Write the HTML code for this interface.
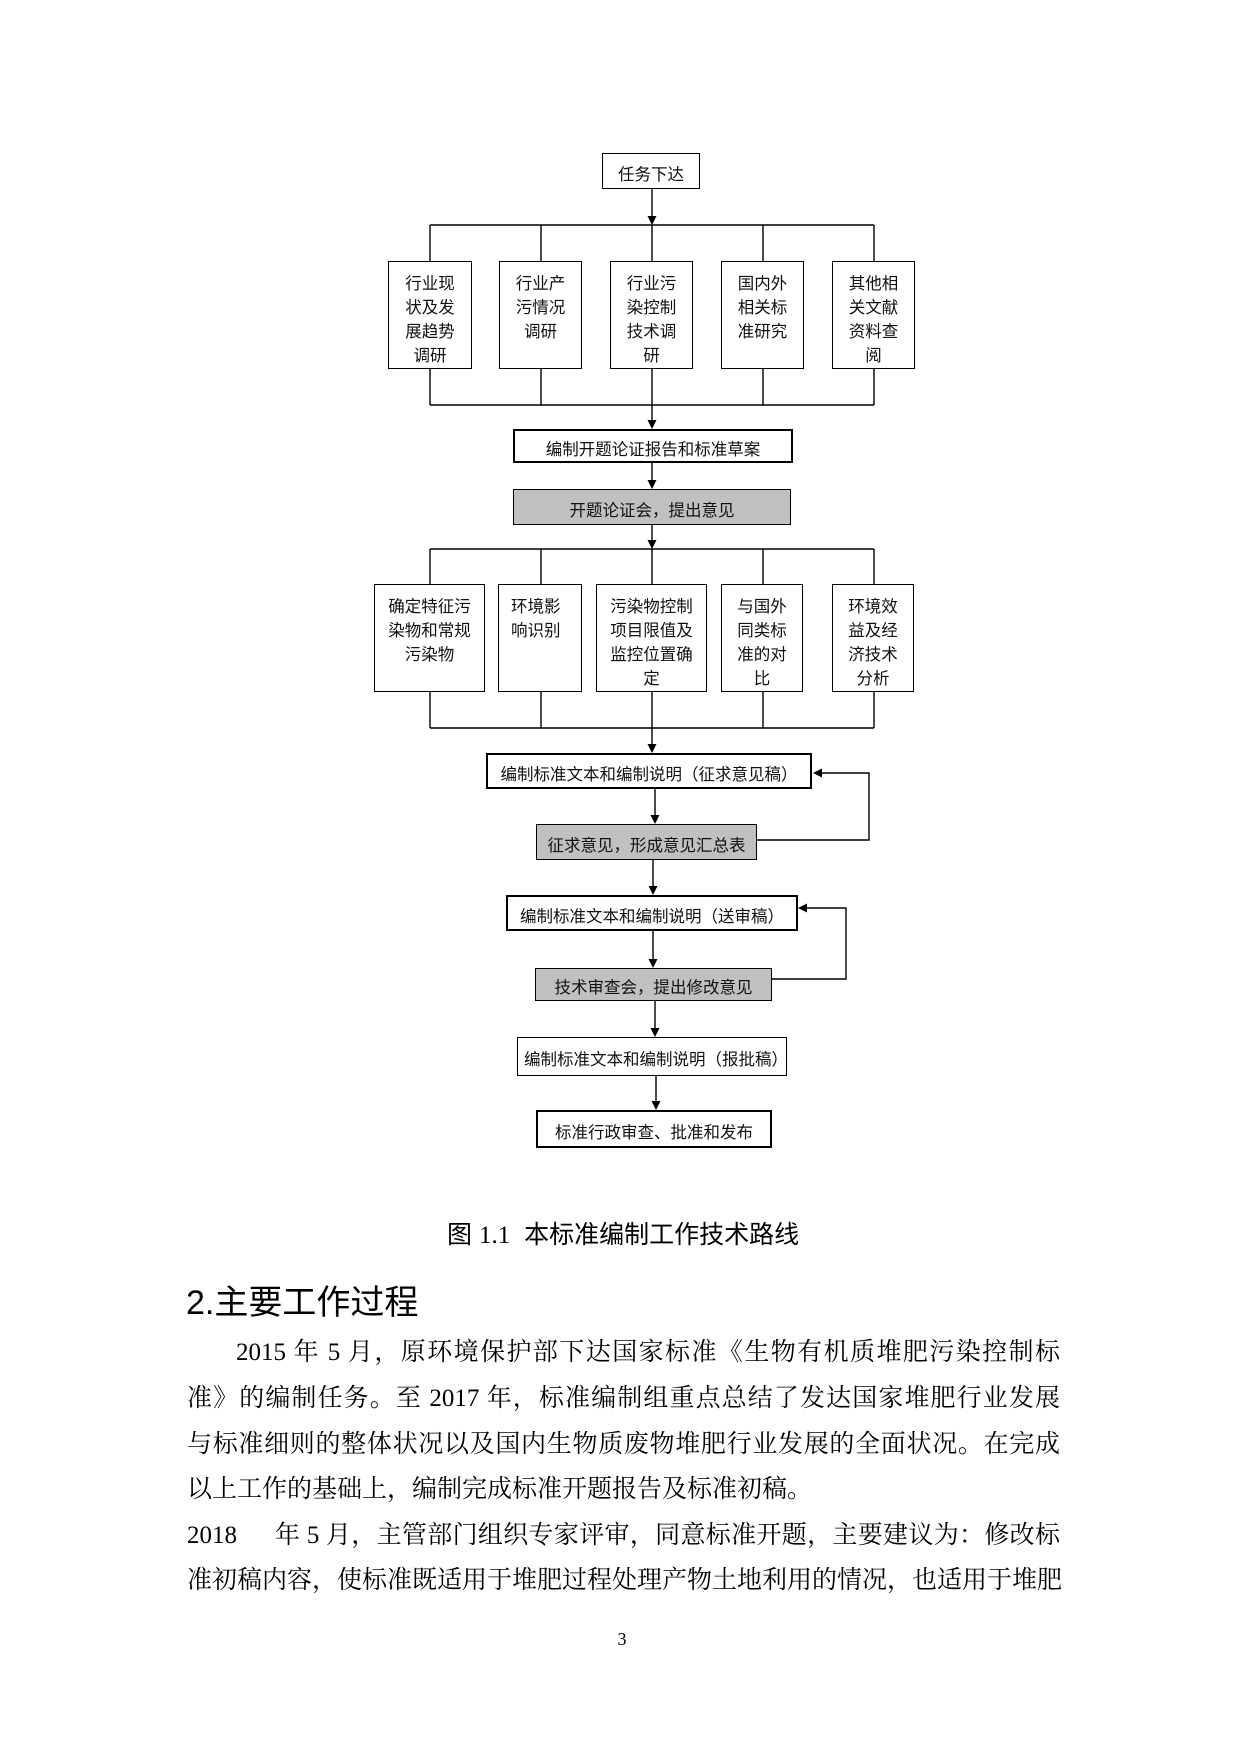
<!DOCTYPE html>
<html>
<head>
<meta charset="utf-8">
<style>
  html, body { margin:0; padding:0; background:#fff; }
  body { width:1240px; height:1754px; position:relative; overflow:hidden; }
  .bx { position:absolute; box-sizing:border-box; border:1.5px solid #000; background:#fff;
        font-family:"Liberation Sans","Noto Sans CJK SC",sans-serif; font-size:16.5px; color:#111;
        text-align:center; white-space:nowrap; }
  .thick { border-width:2px; }
  .gray { background:#c0c0c0; }
  .one { display:flex; align-items:center; justify-content:center; padding-top:3px; }
  .multi { line-height:24px; padding-top:10px; }
  .left { text-align:left; padding-left:12px; }
  svg { position:absolute; left:0; top:0; }
  .txt { position:absolute; white-space:nowrap; color:#000; }
  .body { font-family:"Liberation Serif","Noto Serif CJK SC",serif; font-size:25px; line-height:46px; height:46px; }
  .just { text-align:justify; text-align-last:justify; }
</style>
</head>
<body>

<svg width="1240" height="1754" viewBox="0 0 1240 1754">
  <g stroke="#000" stroke-width="1.4" fill="none">
    <line x1="652" y1="189" x2="652" y2="218"/>
    <line x1="430" y1="225" x2="874" y2="225"/>
    <line x1="430" y1="225" x2="430" y2="261"/>
    <line x1="541" y1="225" x2="541" y2="261"/>
    <line x1="652" y1="225" x2="652" y2="261"/>
    <line x1="763" y1="225" x2="763" y2="261"/>
    <line x1="874" y1="225" x2="874" y2="261"/>
    <line x1="430" y1="369" x2="430" y2="405"/>
    <line x1="541" y1="369" x2="541" y2="405"/>
    <line x1="652" y1="369" x2="652" y2="405"/>
    <line x1="763" y1="369" x2="763" y2="405"/>
    <line x1="874" y1="369" x2="874" y2="405"/>
    <line x1="430" y1="405" x2="874" y2="405"/>
    <line x1="652" y1="405" x2="652" y2="422"/>
    <line x1="652" y1="463" x2="652" y2="482"/>
    <line x1="652" y1="525" x2="652" y2="542"/>
    <line x1="430" y1="549" x2="874" y2="549"/>
    <line x1="430" y1="549" x2="430" y2="584"/>
    <line x1="541" y1="549" x2="541" y2="584"/>
    <line x1="652" y1="549" x2="652" y2="584"/>
    <line x1="763" y1="549" x2="763" y2="584"/>
    <line x1="874" y1="549" x2="874" y2="584"/>
    <line x1="430" y1="692" x2="430" y2="728"/>
    <line x1="541" y1="692" x2="541" y2="728"/>
    <line x1="652" y1="692" x2="652" y2="728"/>
    <line x1="763" y1="692" x2="763" y2="728"/>
    <line x1="874" y1="692" x2="874" y2="728"/>
    <line x1="430" y1="728" x2="874" y2="728"/>
    <line x1="652" y1="728" x2="652" y2="746"/>
    <line x1="655" y1="789" x2="655" y2="817"/>
    <polyline points="757,840 869,840 869,773 820,773"/>
    <line x1="653" y1="860" x2="653" y2="888"/>
    <line x1="653" y1="931" x2="653" y2="961"/>
    <polyline points="772,979 846,979 846,908 805,908"/>
    <line x1="655" y1="1001" x2="655" y2="1030"/>
    <line x1="656" y1="1076" x2="656" y2="1103"/>
  </g>
  <g fill="#000">
    <polygon points="647.5,216 656.5,216 652,225"/>
    <polygon points="647.5,420 656.5,420 652,429"/>
    <polygon points="647.5,480 656.5,480 652,489"/>
    <polygon points="647.5,540 656.5,540 652,549"/>
    <polygon points="647.5,744 656.5,744 652,753"/>
    <polygon points="650.5,815 659.5,815 655,824"/>
    <polygon points="822,768.5 822,777.5 813,773"/>
    <polygon points="648.5,886 657.5,886 653,895"/>
    <polygon points="648.5,959 657.5,959 653,968"/>
    <polygon points="807,903.5 807,912.5 798,908"/>
    <polygon points="650.5,1028 659.5,1028 655,1037"/>
    <polygon points="651.5,1101 660.5,1101 656,1110"/>
  </g>
</svg>

<div class="bx one" style="left:602px;top:153px;width:98px;height:36px;">任务下达</div>

<div class="bx multi" style="left:388px;top:261px;width:84px;height:108px;">行业现<br>状及发<br>展趋势<br>调研</div>
<div class="bx multi" style="left:499px;top:261px;width:83px;height:108px;">行业产<br>污情况<br>调研</div>
<div class="bx multi" style="left:610px;top:261px;width:83px;height:108px;">行业污<br>染控制<br>技术调<br>研</div>
<div class="bx multi" style="left:721px;top:261px;width:83px;height:108px;">国内外<br>相关标<br>准研究</div>
<div class="bx multi" style="left:832px;top:261px;width:83px;height:108px;">其他相<br>关文献<br>资料查<br>阅</div>

<div class="bx one thick" style="left:513px;top:429px;width:280px;height:34px;">编制开题论证报告和标准草案</div>
<div class="bx one gray" style="left:513px;top:489px;width:278px;height:36px;">开题论证会，提出意见</div>

<div class="bx multi" style="left:374px;top:584px;width:111px;height:108px;">确定特征污<br>染物和常规<br>污染物</div>
<div class="bx multi left" style="left:498px;top:584px;width:84px;height:108px;">环境影<br>响识别</div>
<div class="bx multi" style="left:596px;top:584px;width:111px;height:108px;">污染物控制<br>项目限值及<br>监控位置确<br>定</div>
<div class="bx multi" style="left:721px;top:584px;width:82px;height:108px;">与国外<br>同类标<br>准的对<br>比</div>
<div class="bx multi" style="left:832px;top:584px;width:82px;height:108px;">环境效<br>益及经<br>济技术<br>分析</div>

<div class="bx one thick" style="left:486px;top:753px;width:326px;height:36px;">编制标准文本和编制说明（征求意见稿）</div>
<div class="bx one gray" style="left:536px;top:824px;width:221px;height:36px;">征求意见，形成意见汇总表</div>
<div class="bx one thick" style="left:506px;top:895px;width:292px;height:36px;">编制标准文本和编制说明（送审稿）</div>
<div class="bx one gray" style="left:535px;top:968px;width:237px;height:33px;">技术审查会，提出修改意见</div>
<div class="bx one" style="left:517px;top:1037px;width:270px;height:39px;padding-left:8px;">编制标准文本和编制说明（报批稿）</div>
<div class="bx one thick" style="left:536px;top:1110px;width:236px;height:38px;">标准行政审查、批准和发布</div>

<div class="txt" style="left:447px;top:1218px;font-size:25px;line-height:34px;font-family:'Liberation Sans','Noto Sans CJK SC',sans-serif;">图 <span style="font-family:'Liberation Serif',serif;">1.1</span>&nbsp; 本标准编制工作技术路线</div>

<div class="txt" style="left:186px;top:1280px;font-size:34px;line-height:46px;font-family:'Liberation Sans','Noto Sans CJK SC',sans-serif;">2.主要工作过程</div>

<div class="txt body just" style="left:236px;top:1330px;width:824px;">2015 年 5 月，原环境保护部下达国家标准《生物有机质堆肥污染控制标</div>
<div class="txt body just" style="left:187px;top:1376px;width:873px;">准》的编制任务。至 2017 年，标准编制组重点总结了发达国家堆肥行业发展</div>
<div class="txt body just" style="left:187px;top:1422px;width:873px;">与标准细则的整体状况以及国内生物质废物堆肥行业发展的全面状况。在完成</div>
<div class="txt body" style="left:187px;top:1467px;">以上工作的基础上，编制完成标准开题报告及标准初稿。</div>
<div class="txt body" style="left:187px;top:1513px;">2018</div>
<div class="txt body just" style="left:275px;top:1513px;width:785px;">年 5 月，主管部门组织专家评审，同意标准开题，主要建议为：修改标</div>
<div class="txt body just" style="left:187px;top:1558px;width:873px;">准初稿内容，使标准既适用于堆肥过程处理产物土地利用的情况，也适用于堆肥</div>

<div class="txt" style="left:612px;top:1626px;width:20px;text-align:center;font-family:'Liberation Serif',serif;font-size:18px;line-height:26px;">3</div>

</body>
</html>
